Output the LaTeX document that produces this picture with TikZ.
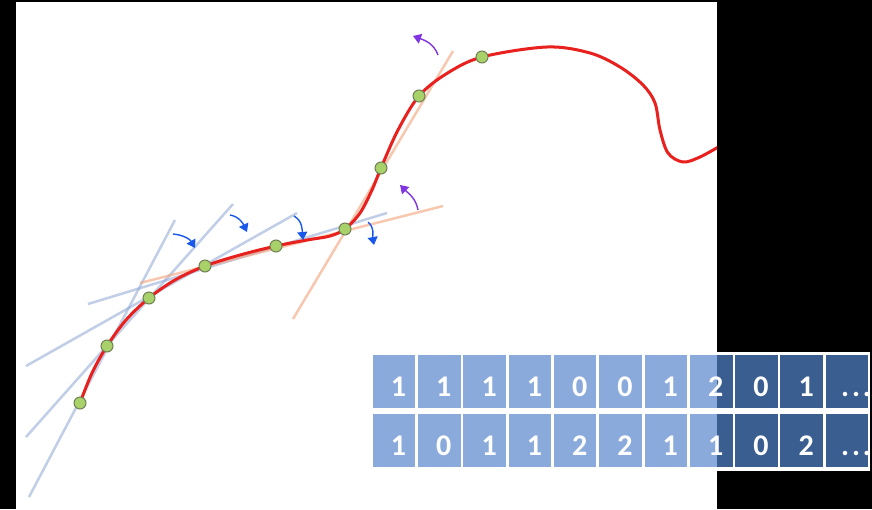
\documentclass[tikz,border=0pt]{standalone}
\usepackage{fontspec}
\setsansfont{Carlito}
\usetikzlibrary{arrows.meta}
\definecolor{redc}{RGB}{232,32,30}
\definecolor{tanblue}{RGB}{143,166,212}
\definecolor{tanorange}{RGB}{244,162,122}
\definecolor{ptfill}{RGB}{169,209,106}
\definecolor{ptdraw}{RGB}{112,128,84}
\definecolor{bluearr}{RGB}{26,88,235}
\definecolor{purparr}{RGB}{128,52,226}
\definecolor{celllight}{RGB}{139,170,220}
\definecolor{celldark}{RGB}{59,94,145}
\tikzset{
  tline/.style={draw=tanblue,opacity=0.55,line width=2.5pt},
  oline/.style={draw=tanorange,opacity=0.6,line width=2.5pt},
  curve/.style={draw=redc,line width=3pt},
  pt/.style={circle,fill=ptfill,draw=ptdraw,line width=1pt,minimum size=12pt,inner sep=0pt},
  barrow/.style={draw=bluearr,line width=1.4pt,-{Triangle[width=10pt,length=8pt]}},
  parrow/.style={draw=purparr,line width=1.4pt,-{Triangle[width=10pt,length=8pt]}},
  cell/.style={rectangle,fill=celllight,minimum width=42.5pt,minimum height=53pt,inner sep=0pt},
  digit/.style={anchor=base,text=white,inner sep=0pt,font=\sffamily\bfseries\fontsize{30}{30}\selectfont}
}
\begin{document}
\begin{tikzpicture}[x=1pt,y=-1pt]
\fill[black] (0,0) rectangle (872,509);
\fill[white] (16,2) rectangle (717,509);
\useasboundingbox (0,0) rectangle (872,509);

% tangent lines
\draw[tline] (29,497) -- (175,220);
\draw[tline] (26,437) -- (233,204);
\draw[tline] (26,366) -- (297,213);
\draw[tline] (88,304) -- (387,213);
\draw[oline] (140,283) -- (443,206);
\draw[oline] (293,319) -- (453,51);

% red curve
\begin{scope}
\clip (16,2) rectangle (717,509);
\draw[curve] plot[smooth,tension=0.55] coordinates {
 (80,403) (92,373) (107,346) (126,320) (149,298) (175,280) (205,266) (240,255)
 (276,246) (307,240) (330,236) (345,229) (360,213) (372,190) (381,168) (398,130)
 (419,96) (446,74) (482,57) (547,47) (590,53) (620,67) (643,85) (655,103) (660,130)
 (668,153) (683,162) (700,157) (720,146)};
\end{scope}

% points
\foreach \x/\y [count=\i] in {80/403,107/346,149/298,205/266,276/246,345/229,381/168,419/96,482/57}
  \node[pt] (p\i) at (\x,\y) {};

% arrows
\draw[barrow] (173,234) to[out=-5,in=120] (195,248);
\draw[barrow] (230,215) to[out=-10,in=115] (247,232);
\draw[barrow] (294,216) to[out=-30,in=95] (303,240);
\draw[barrow] (368,222) to[out=-40,in=100] (374,245);
\draw[parrow] (418,210) to[out=100,in=-45] (400,185);
\draw[parrow] (438,55) to[out=110,in=-20] (413,36);

% table
\fill[white] (370,352) rectangle (870,471);
\foreach \i in {1,...,11} {
  \pgfmathsetmacro\cx{394+45.3*(\i-1)}
  \node[cell] (a\i) at (\cx,381.5) {};
  \node[cell] (b\i) at (\cx,440.5) {};
}
\begin{scope}
\clip (717,340) rectangle (872,480);
\foreach \i in {1,...,11} {
  \fill[celldark] (a\i.south west) rectangle (a\i.north east);
  \fill[celldark] (b\i.south west) rectangle (b\i.north east);
}
\end{scope}
\foreach \v [count=\i] in {1,1,1,1,0,0,1,2,0,1} {
  \pgfmathsetmacro\cx{398.5+45.3*(\i-1)}
  \node[digit] (ta\i) at (\cx,396) {\v};
}
\foreach \v [count=\i] in {1,0,1,1,2,2,1,1,0,2} {
  \pgfmathsetmacro\cx{398.5+45.3*(\i-1)}
  \node[digit] (tb\i) at (\cx,455) {\v};
}
\begin{scope}
\clip (a11.north west) rectangle (b11.south east);
\node[digit,anchor=base west] (ta11) at (841,396) {.\kern2.8pt.\kern2.8pt.};
\node[digit,anchor=base west] (tb11) at (841,455) {.\kern2.8pt.\kern2.8pt.};
\end{scope}
\end{tikzpicture}
\end{document}
